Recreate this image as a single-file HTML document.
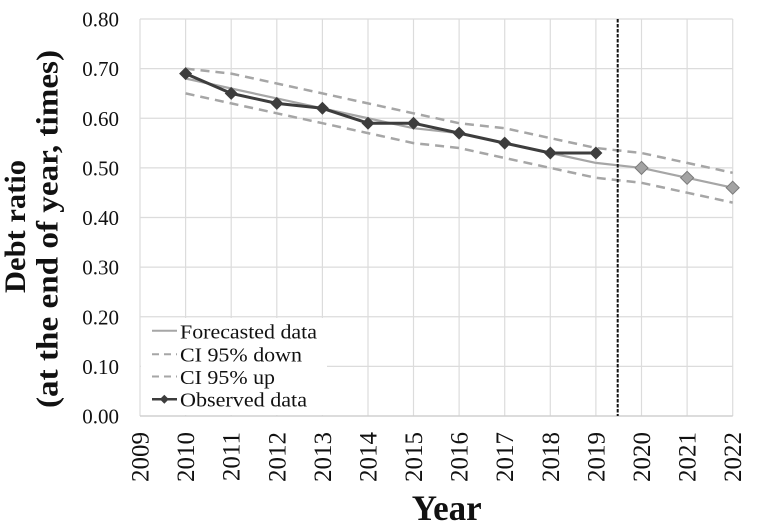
<!DOCTYPE html>
<html>
<head>
<meta charset="utf-8">
<style>
html,body{margin:0;padding:0;background:#fff;}
svg{display:block;}
text{font-family:"Liberation Serif","DejaVu Serif",serif;fill:#111;}
</style>
</head>
<body>
<svg width="758" height="529" viewBox="0 0 758 529" xmlns="http://www.w3.org/2000/svg">
<rect x="0" y="0" width="758" height="529" fill="#fff"/>
<!-- grid -->
<g stroke="#dcdcdc" stroke-width="1.2" fill="none">
<line x1="140" y1="19" x2="732.7" y2="19"/>
<line x1="140" y1="68.6" x2="732.7" y2="68.6"/>
<line x1="140" y1="118.25" x2="732.7" y2="118.25"/>
<line x1="140" y1="167.9" x2="732.7" y2="167.9"/>
<line x1="140" y1="217.5" x2="732.7" y2="217.5"/>
<line x1="140" y1="267.1" x2="732.7" y2="267.1"/>
<line x1="140" y1="316.75" x2="732.7" y2="316.75"/>
<line x1="140" y1="366.4" x2="732.7" y2="366.4"/>
<line x1="140" y1="19" x2="140" y2="416"/>
<line x1="185.6" y1="19" x2="185.6" y2="416"/>
<line x1="231.2" y1="19" x2="231.2" y2="416"/>
<line x1="276.8" y1="19" x2="276.8" y2="416"/>
<line x1="322.4" y1="19" x2="322.4" y2="416"/>
<line x1="368.0" y1="19" x2="368.0" y2="416"/>
<line x1="413.5" y1="19" x2="413.5" y2="416"/>
<line x1="459.1" y1="19" x2="459.1" y2="416"/>
<line x1="504.7" y1="19" x2="504.7" y2="416"/>
<line x1="550.3" y1="19" x2="550.3" y2="416"/>
<line x1="595.9" y1="19" x2="595.9" y2="416"/>
<line x1="641.5" y1="19" x2="641.5" y2="416"/>
<line x1="687.1" y1="19" x2="687.1" y2="416"/>
<line x1="732.7" y1="19" x2="732.7" y2="416"/>
</g>
<!-- legend background -->
<rect x="141" y="318" width="186" height="97" fill="#fff"/>
<line x1="140" y1="416" x2="732.7" y2="416" stroke="#d0d0d0" stroke-width="1.5"/>

<!-- CI up -->
<polyline fill="none" stroke="#a6a6a6" stroke-width="2.5" stroke-dasharray="9,6"
points="185.6,68.6 231.2,73.6 276.8,83.5 322.4,93.4 368.0,103.4 413.5,113.3 459.1,123.2 504.7,128.2 550.3,138.1 595.9,148.0 641.5,153.0 687.1,162.9 732.7,172.8"/>
<!-- CI down -->
<polyline fill="none" stroke="#a6a6a6" stroke-width="2.5" stroke-dasharray="9,6"
points="185.6,93.4 231.2,103.4 276.8,113.3 322.4,123.2 368.0,133.1 413.5,143.1 459.1,148.0 504.7,158.0 550.3,167.9 595.9,177.8 641.5,182.8 687.1,192.7 732.7,202.6"/>
<!-- Forecast -->
<polyline fill="none" stroke="#a6a6a6" stroke-width="2.2" stroke-linejoin="round"
points="185.6,78.5 231.2,88.5 276.8,98.4 322.4,108.3 368.0,118.25 413.5,128.2 459.1,133.1 504.7,143.1 550.3,153.0 595.9,162.9 641.5,167.9 687.1,177.8 732.7,187.7"/>
<g fill="#a3a3a3" stroke="#7a7a7a" stroke-width="1">
<polygon points="641.5,161.4 648,167.9 641.5,174.4 635,167.9"/>
<polygon points="687.1,171.3 693.6,177.8 687.1,184.3 680.6,177.8"/>
<polygon points="732.7,181.2 739.2,187.7 732.7,194.2 726.2,187.7"/>
</g>
<!-- Observed -->
<polyline fill="none" stroke="#3d3d3d" stroke-width="3" stroke-linejoin="round"
points="185.6,73.6 231.2,93.4 276.8,103.4 322.4,108.3 368.0,123.2 413.5,123.2 459.1,133.1 504.7,143.1 550.3,153.0 595.9,153.0"/>
<g fill="#3d3d3d">
<polygon points="185.6,67.1 192.1,73.6 185.6,80.1 179.1,73.6"/>
<polygon points="231.2,86.9 237.7,93.4 231.2,99.9 224.7,93.4"/>
<polygon points="276.8,96.9 283.3,103.4 276.8,109.9 270.3,103.4"/>
<polygon points="322.4,101.8 328.9,108.3 322.4,114.8 315.9,108.3"/>
<polygon points="368.0,116.7 374.5,123.2 368.0,129.7 361.5,123.2"/>
<polygon points="413.5,116.7 420,123.2 413.5,129.7 407,123.2"/>
<polygon points="459.1,126.6 465.6,133.1 459.1,139.6 452.6,133.1"/>
<polygon points="504.7,136.6 511.2,143.1 504.7,149.6 498.2,143.1"/>
<polygon points="550.3,146.5 556.8,153.0 550.3,159.5 543.8,153.0"/>
<polygon points="595.9,146.5 602.4,153.0 595.9,159.5 589.4,153.0"/>
</g>
<!-- vertical dashed divider -->
<line x1="617.7" y1="19" x2="617.7" y2="416" stroke="#111" stroke-width="2" stroke-dasharray="3.5,1.5"/>

<!-- legend -->
<line x1="152" y1="330.8" x2="177" y2="330.8" stroke="#a6a6a6" stroke-width="2"/>
<line x1="152" y1="354.2" x2="177" y2="354.2" stroke="#a6a6a6" stroke-width="2" stroke-dasharray="7,5"/>
<line x1="152" y1="376.5" x2="177" y2="376.5" stroke="#a6a6a6" stroke-width="2" stroke-dasharray="7,5"/>
<line x1="152" y1="399.2" x2="177" y2="399.2" stroke="#3d3d3d" stroke-width="2.5"/>
<polygon points="164.3,394.7 168.8,399.2 164.3,403.7 159.8,399.2" fill="#3d3d3d"/>
<g font-size="20">
<text x="180" y="338.3" textLength="137" lengthAdjust="spacingAndGlyphs">Forecasted data</text>
<text x="180" y="361.7" textLength="122" lengthAdjust="spacingAndGlyphs">CI 95% down</text>
<text x="180" y="384" textLength="95" lengthAdjust="spacingAndGlyphs">CI 95% up</text>
<text x="180" y="406.7" textLength="127" lengthAdjust="spacingAndGlyphs">Observed data</text>
</g>

<!-- y tick labels -->
<g font-size="21" text-anchor="end">
<text x="119" y="26.5">0.80</text>
<text x="119" y="76.1">0.70</text>
<text x="119" y="125.75">0.60</text>
<text x="119" y="175.4">0.50</text>
<text x="119" y="225">0.40</text>
<text x="119" y="274.6">0.30</text>
<text x="119" y="324.25">0.20</text>
<text x="119" y="373.9">0.10</text>
<text x="119" y="423.5">0.00</text>
</g>

<!-- x tick labels -->
<g font-size="25" text-anchor="end">
<text transform="translate(148.5,432) rotate(-90)">2009</text>
<text transform="translate(194.1,432) rotate(-90)">2010</text>
<text transform="translate(239.7,432) rotate(-90)">2011</text>
<text transform="translate(285.3,432) rotate(-90)">2012</text>
<text transform="translate(330.9,432) rotate(-90)">2013</text>
<text transform="translate(376.5,432) rotate(-90)">2014</text>
<text transform="translate(422,432) rotate(-90)">2015</text>
<text transform="translate(467.6,432) rotate(-90)">2016</text>
<text transform="translate(513.2,432) rotate(-90)">2017</text>
<text transform="translate(558.8,432) rotate(-90)">2018</text>
<text transform="translate(604.4,432) rotate(-90)">2019</text>
<text transform="translate(650,432) rotate(-90)">2020</text>
<text transform="translate(695.6,432) rotate(-90)">2021</text>
<text transform="translate(741.2,432) rotate(-90)">2022</text>
</g>

<!-- axis titles -->
<text x="446.7" y="520" font-size="36" font-weight="bold" text-anchor="middle" textLength="70" lengthAdjust="spacingAndGlyphs">Year</text>
<text transform="translate(25,226.5) rotate(-90)" font-size="30" font-weight="bold" text-anchor="middle" textLength="133" lengthAdjust="spacingAndGlyphs">Debt ratio</text>
<text transform="translate(57.5,229) rotate(-90)" font-size="31" font-weight="bold" text-anchor="middle" textLength="358" lengthAdjust="spacingAndGlyphs">(at the end of year, times)</text>
</svg>
</body>
</html>
